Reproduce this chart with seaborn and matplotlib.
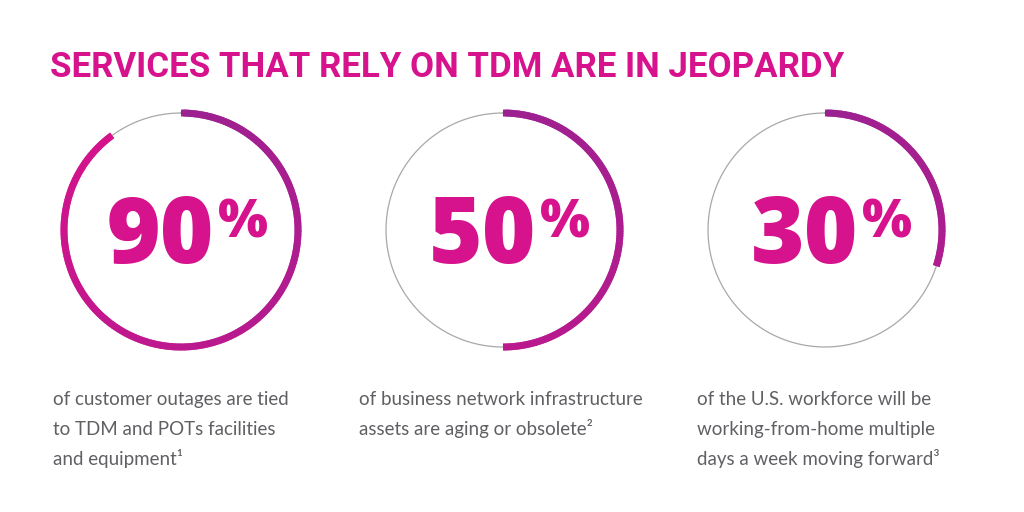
import numpy as np
import matplotlib
matplotlib.use("Agg")
import matplotlib.pyplot as plt
from matplotlib.collections import LineCollection
import seaborn as sns

# ---- data ----
title = "SERVICES THAT RELY ON TDM ARE IN JEOPARDY"
values = [90, 50, 30]
value_labels = ["90", "50", "30"]
captions = [
    ["of customer outages are tied", "to TDM and POTs facilities", "and equipment\u00b9"],
    ["of business network infrastructure", "assets are aging or obsolete\u00b2"],
    ["of the U.S. workforce will be", "working-from-home multiple", "days a week moving forward\u00b3"],
]

# ---- style ----
MAGENTA = "#D6128C"
PURPLE = "#9C2190"
GREY_TEXT = "#606064"
GREY_RING = "#A8A8A8"

sns.set_theme(style="white")
plt.rcParams["font.family"] = ["Lato", "DejaVu Sans"]

fig = plt.figure(figsize=(10.24, 5.12), dpi=100)
ax = fig.add_axes([0, 0, 1, 1])
ax.set_xlim(0, 1024)
ax.set_ylim(512, 0)
ax.axis("off")

centers_x = [181, 503, 825]
cy = 230
R = 117
caption_x = [53, 359, 697]

# title, fitted to the reference width
t_obj = ax.text(50, 77, title, color=MAGENTA, fontsize=28, fontweight="bold",
                family=["Roboto", "DejaVu Sans"], ha="left", va="baseline")
fig.canvas.draw()
w = t_obj.get_window_extent().width
t_obj.set_fontsize(28 * 793 / w)

grad = sns.blend_palette([PURPLE, MAGENTA], n_colors=200)

for cx, v, lab, cap, tx in zip(centers_x, values, value_labels, captions, caption_x):
    # full thin grey ring
    th = np.linspace(0, 2 * np.pi, 400)
    ax.plot(cx + R * np.sin(th), cy - R * np.cos(th), color=GREY_RING, lw=0.9, zorder=1)
    # thick gradient arc, clockwise from 12 o'clock
    end = v / 100 * 2 * np.pi
    n = max(int(v * 3), 10)
    t = np.linspace(0, end, n + 1)
    dt = t[1] - t[0]
    segs = []
    for a in t[:-1]:
        b = min(a + dt * 1.8, end)
        tt = np.linspace(a, b, 4)
        segs.append(np.column_stack([cx + R * np.sin(tt), cy - R * np.cos(tt)]))
    frac = t[:-1] / (2 * np.pi)
    cols = [grad[min(int(f * 199 / 0.9), 199)] for f in frac]
    lc = LineCollection(segs, colors=cols, linewidths=5.0, capstyle="butt", zorder=2)
    ax.add_collection(lc)
    # big number
    ax.text(cx + 33, 263, lab, color=MAGENTA, fontsize=66, fontweight="heavy",
            family=["Open Sans", "DejaVu Sans"], ha="right", va="baseline", zorder=3)
    ax.text(cx + 37, 237, "%", color=MAGENTA, fontsize=38, fontweight="heavy",
            family=["Open Sans", "DejaVu Sans"], ha="left", va="baseline", zorder=3)
    # caption
    for i, line in enumerate(cap):
        ax.text(tx, 405 + 30 * i, line, color=GREY_TEXT, fontsize=13.5, fontweight="normal",
                ha="left", va="baseline")

fig.savefig("out.png", dpi=100, facecolor="white")
